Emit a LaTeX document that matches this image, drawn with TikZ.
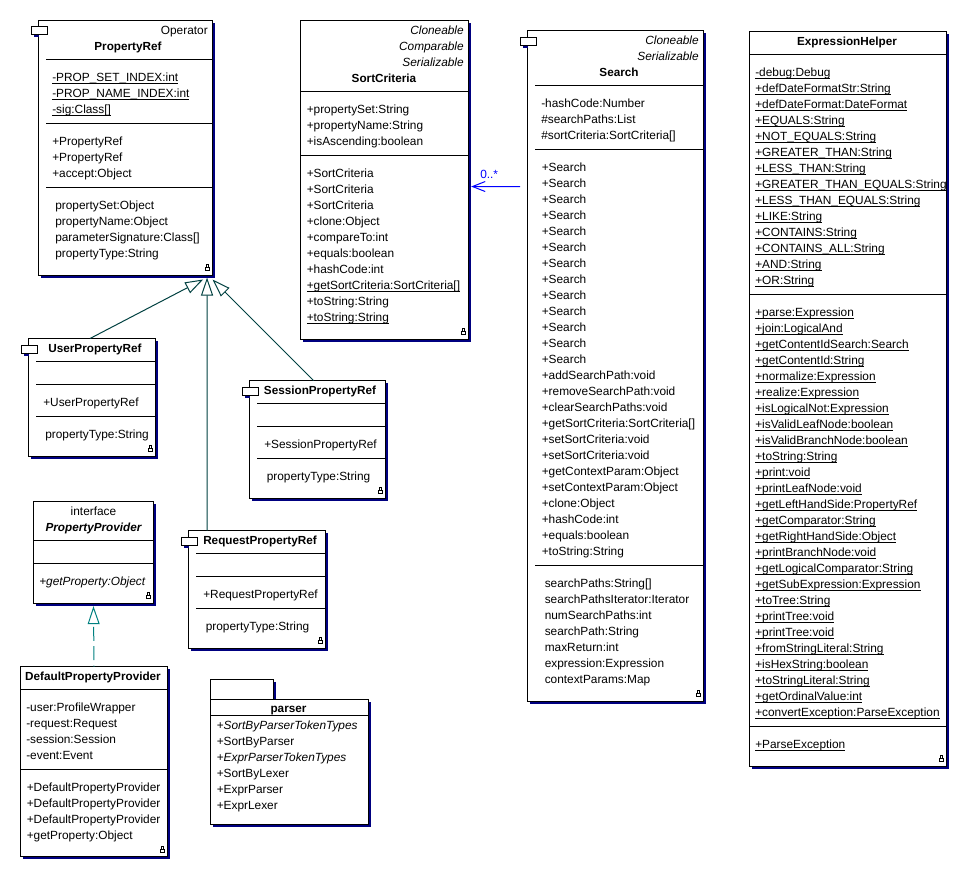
\documentclass[tikz,border=0pt]{standalone}
\usepackage{fontspec}
\usepackage{tikz}
\usetikzlibrary{arrows.meta,shadows}
\setmainfont{Liberation Sans}

\definecolor{shadowblue}{RGB}{0,0,128}
\definecolor{darkteal}{RGB}{0,64,64}
\definecolor{lightteal}{RGB}{0,128,128}
\definecolor{assocblue}{RGB}{0,0,255}

\newcommand{\ulined}[1]{\setbox0=\hbox{#1}\rlap{\rule[-1.9pt]{\wd0}{0.75pt}}\box0}
\newcommand{\compicon}[3]{%
  \fill [shadowblue] ({#2+3},{#3+9}) rectangle ({#2+8},{#3+11});
  \node (#1) [compbox] at (#2,#3) {};}

\tikzset{
  classbox/.style={draw, fill=white, line width=0.75pt, anchor=north west, inner sep=0pt, outer sep=0pt,
    general shadow={fill=shadowblue, shadow xshift=1.9pt, shadow yshift=-1.9pt}},
  boxsize/.style 2 args={minimum width=#1*0.75pt, minimum height=#2*0.75pt},
  compbox/.style={draw, fill=white, line width=0.75pt, anchor=north west, inner sep=0pt, outer sep=0pt,
    minimum width=12pt, minimum height=6pt},
  member/.style={anchor=base west, inner sep=0pt, font=\fontsize{8.9}{12}\selectfont},
  memberit/.style={member, font=\fontsize{8.9}{12}\selectfont\itshape},
  stereo/.style={anchor=base east, inner sep=0pt, font=\fontsize{8.9}{12}\selectfont},
  stereoit/.style={stereo, font=\fontsize{8.9}{12}\selectfont\itshape},
  heading/.style={anchor=base, inner sep=0pt, font=\fontsize{8.8}{12}\selectfont\bfseries},
  sepline/.style={line width=0.75pt},
  genarrow/.style={color=darkteal, line width=0.75pt, -{Triangle[open, length=13.5pt, width=9pt]}},
  realarrow/.style={color=lightteal, line width=0.75pt, dash pattern=on 10.5pt off 4pt, dash phase=9.75pt, -{Triangle[open, length=13.5pt, width=9pt, sep=0pt]}},
  assocarrow/.style={color=assocblue, line width=0.75pt, -{Straight Barb[length=9.5pt, width=7.5pt]}},
  lockmark/.pic={
    \draw [line width=0.75pt] (-2,-3.5) rectangle (2,-0.5);
    \draw [line width=0.75pt] (-1,-0.5) -- (-1,2.5) -- (1,2.5) -- (1,-0.5);
  }
}

\begin{document}
\begin{tikzpicture}[x=0.75pt,y=0.75pt,yscale=-1,xscale=1]
\useasboundingbox (0,0) rectangle (960,871);

% PropertyRef
\node (propRef) [classbox, boxsize={174}{255}] at (38.5,20.5) {};
\compicon{propRefIcon}{31}{26}
\draw [sepline] (46,59.5) -- (212.5,59.5) ;
\draw [sepline] (46,123.5) -- (212.5,123.5) ;
\draw [sepline] (46,187.5) -- (212.5,187.5) ;
\node (propRefOp) [stereo] at (208,34) {Operator};
\node (propRefName) [heading] at (128,50) {PropertyRef};
\node (propRefA1) [member] at (52,81) {\ulined{-PROP\_SET\_INDEX:int}};
\node (propRefA2) [member] at (52,97) {\ulined{-PROP\_NAME\_INDEX:int}};
\node (propRefA3) [member] at (52,113) {\ulined{-sig:Class[]}};
\node (propRefM1) [member] at (52,145) {+PropertyRef};
\node (propRefM2) [member] at (52,161) {+PropertyRef};
\node (propRefM3) [member] at (52,177) {+accept:Object};
\node (propRefP1) [member] at (55,209) {propertySet:Object};
\node (propRefP2) [member] at (55,225) {propertyName:Object};
\node (propRefP3) [member] at (55,241) {parameterSignature:Class[]};
\node (propRefP4) [member] at (55,257) {propertyType:String};
\pic at (207.5,266.5) {lockmark};

% UserPropertyRef
\node (userRef) [classbox, boxsize={127}{118}] at (28.5,338.5) {};
\compicon{userRefIcon}{21}{345}
\draw [sepline] (36,361.5) -- (155.5,361.5) ;
\draw [sepline] (36,384.5) -- (155.5,384.5) ;
\draw [sepline] (36,416.5) -- (155.5,416.5) ;
\node (userRefName) [heading] at (95,352) {UserPropertyRef};
\node (userRefM1) [member] at (43,406) {+UserPropertyRef};
\node (userRefP1) [member] at (45,438) {propertyType:String};
\pic at (150.5,447.5) {lockmark};

% SessionPropertyRef
\node (sessionRef) [classbox, boxsize={136}{118}] at (249.5,380.5) {};
\compicon{sessionRefIcon}{242}{387}
\draw [sepline] (257,403.5) -- (385.5,403.5) ;
\draw [sepline] (257,426.5) -- (385.5,426.5) ;
\draw [sepline] (257,458.5) -- (385.5,458.5) ;
\node (sessionRefName) [heading] at (320,394) {SessionPropertyRef};
\node (sessionRefM1) [member] at (264,448) {+SessionPropertyRef};
\node (sessionRefP1) [member] at (266.5,480) {propertyType:String};
\pic at (380.5,490) {lockmark};

% RequestPropertyRef
\node (requestRef) [classbox, boxsize={137}{118}] at (188.5,530.5) {};
\compicon{requestRefIcon}{181}{537}
\draw [sepline] (196,553.5) -- (325.5,553.5) ;
\draw [sepline] (196,576.5) -- (325.5,576.5) ;
\draw [sepline] (196,608.5) -- (325.5,608.5) ;
\node (requestRefName) [heading] at (260,544) {RequestPropertyRef};
\node (requestRefM1) [member] at (203,598) {+RequestPropertyRef};
\node (requestRefP1) [member] at (205.5,630) {propertyType:String};
\pic at (320.5,640) {lockmark};

% PropertyProvider
\node (provider) [classbox, boxsize={120}{102}] at (33.5,501.5) {};
\draw [sepline] (33.5,540.5) -- (153.5,540.5) ;
\draw [sepline] (33.5,563.5) -- (153.5,563.5) ;
\node (providerKind) [heading, font=\fontsize{8.9}{12}\selectfont] at (93.5,515) {interface};
\node (providerName) [heading, font=\fontsize{8.8}{12}\selectfont\bfseries\itshape] at (93.5,531) {PropertyProvider};
\node (providerM1) [memberit] at (39,585) {+getProperty:Object};
\pic at (148.5,595) {lockmark};

% DefaultPropertyProvider
\node (defProvider) [classbox, boxsize={147}{190}] at (20.5,666.5) {};
\draw [sepline] (20.5,689.5) -- (167.5,689.5) ;
\draw [sepline] (20.5,769.5) -- (167.5,769.5) ;
\node (defProviderName) [heading] at (93,680) {DefaultPropertyProvider};
\node (defProviderA1) [member] at (26,711) {-user:ProfileWrapper};
\node (defProviderA2) [member] at (26,727) {-request:Request};
\node (defProviderA3) [member] at (26,743) {-session:Session};
\node (defProviderA4) [member] at (26,759) {-event:Event};
\node (defProviderM1) [member] at (26.5,791) {+DefaultPropertyProvider};
\node (defProviderM2) [member] at (26.5,807) {+DefaultPropertyProvider};
\node (defProviderM3) [member] at (26.5,823) {+DefaultPropertyProvider};
\node (defProviderM4) [member] at (26.5,839) {+getProperty:Object};
\pic at (162.5,848.5) {lockmark};

% parser package
\node (parserTab) [classbox, boxsize={63}{21}] at (210.5,679.5) {};
\node (parserBody) [classbox, boxsize={158}{125}] at (210.5,699.5) {};
\draw [sepline] (210.5,715.5) -- (368.5,715.5) ;
\node (parserName) [heading] at (288.5,712) {parser};
\node (parserI1) [member] at (216.5,729) {+\textit{SortByParserTokenTypes}};
\node (parserI2) [member] at (216.5,745) {+SortByParser};
\node (parserI3) [member] at (216.5,761) {+\textit{ExprParserTokenTypes}};
\node (parserI4) [member] at (216.5,777) {+SortByLexer};
\node (parserI5) [member] at (216.5,793) {+ExprParser};
\node (parserI6) [member] at (216.5,809) {+ExprLexer};

% SortCriteria
\node (sortCrit) [classbox, boxsize={168}{319}] at (300.5,20.5) {};
\draw [sepline] (300.5,91.5) -- (468.5,91.5) ;
\draw [sepline] (300.5,155.5) -- (468.5,155.5) ;
\node (sortCritS1) [stereoit] at (464,34) {Cloneable};
\node (sortCritS2) [stereoit] at (464,50) {Comparable};
\node (sortCritS3) [stereoit] at (464,66) {Serializable};
\node (sortCritName) [heading] at (384,82) {SortCriteria};
\node (sortCritA1) [member] at (306.5,113) {+propertySet:String};
\node (sortCritA2) [member] at (306.5,129) {+propertyName:String};
\node (sortCritA3) [member] at (306.5,145) {+isAscending:boolean};
\node (sortCritM1) [member] at (306.5,177) {+SortCriteria};
\node (sortCritM2) [member] at (306.5,193) {+SortCriteria};
\node (sortCritM3) [member] at (306.5,209) {+SortCriteria};
\node (sortCritM4) [member] at (306.5,225) {+clone:Object};
\node (sortCritM5) [member] at (306.5,241) {+compareTo:int};
\node (sortCritM6) [member] at (306.5,257) {+equals:boolean};
\node (sortCritM7) [member] at (306.5,273) {+hashCode:int};
\node (sortCritM8) [member] at (306.5,289) {\ulined{+getSortCriteria:SortCriteria[]}};
\node (sortCritM9) [member] at (306.5,305) {+toString:String};
\node (sortCritM10) [member] at (306.5,321) {\ulined{+toString:String}};
\pic at (463.5,331) {lockmark};

% Search
\node (search) [classbox, boxsize={176}{671}] at (527.5,30.5) {};
\compicon{searchIcon}{520}{37}
\draw [sepline] (535,85.5) -- (703.5,85.5) ;
\draw [sepline] (535,149.5) -- (703.5,149.5) ;
\draw [sepline] (535,565.5) -- (703.5,565.5) ;
\node (searchS1) [stereoit] at (699,44) {Cloneable};
\node (searchS2) [stereoit] at (699,60) {Serializable};
\node (searchName) [heading] at (619,76) {Search};
\node (searchA1) [member] at (541,107) {-hashCode:Number};
\node (searchA2) [member] at (541,123) {\#searchPaths:List};
\node (searchA3) [member] at (541,139) {\#sortCriteria:SortCriteria[]};
\node (searchM1) [member] at (541.5,171) {+Search};
\node (searchM2) [member] at (541.5,187) {+Search};
\node (searchM3) [member] at (541.5,203) {+Search};
\node (searchM4) [member] at (541.5,219) {+Search};
\node (searchM5) [member] at (541.5,235) {+Search};
\node (searchM6) [member] at (541.5,251) {+Search};
\node (searchM7) [member] at (541.5,267) {+Search};
\node (searchM8) [member] at (541.5,283) {+Search};
\node (searchM9) [member] at (541.5,299) {+Search};
\node (searchM10) [member] at (541.5,315) {+Search};
\node (searchM11) [member] at (541.5,331) {+Search};
\node (searchM12) [member] at (541.5,347) {+Search};
\node (searchM13) [member] at (541.5,363) {+Search};
\node (searchM14) [member] at (541.5,379) {+addSearchPath:void};
\node (searchM15) [member] at (541.5,395) {+removeSearchPath:void};
\node (searchM16) [member] at (541.5,411) {+clearSearchPaths:void};
\node (searchM17) [member] at (541.5,427) {+getSortCriteria:SortCriteria[]};
\node (searchM18) [member] at (541.5,443) {+setSortCriteria:void};
\node (searchM19) [member] at (541.5,459) {+setSortCriteria:void};
\node (searchM20) [member] at (541.5,475) {+getContextParam:Object};
\node (searchM21) [member] at (541.5,491) {+setContextParam:Object};
\node (searchM22) [member] at (541.5,507) {+clone:Object};
\node (searchM23) [member] at (541.5,523) {+hashCode:int};
\node (searchM24) [member] at (541.5,539) {+equals:boolean};
\node (searchM25) [member] at (541.5,555) {+toString:String};
\node (searchP1) [member] at (544.5,587) {searchPaths:String[]};
\node (searchP2) [member] at (544.5,603) {searchPathsIterator:Iterator};
\node (searchP3) [member] at (544.5,619) {numSearchPaths:int};
\node (searchP4) [member] at (544.5,635) {searchPath:String};
\node (searchP5) [member] at (544.5,651) {maxReturn:int};
\node (searchP6) [member] at (544.5,667) {expression:Expression};
\node (searchP7) [member] at (544.5,683) {contextParams:Map};
\pic at (698.5,693) {lockmark};

% ExpressionHelper
\node (exprHelper) [classbox, boxsize={197}{735}] at (749.5,31.5) {};
\draw [sepline] (749.5,54.5) -- (946.5,54.5) ;
\draw [sepline] (749.5,294.5) -- (946.5,294.5) ;
\draw [sepline] (749.5,726.5) -- (946.5,726.5) ;
\node (exprHelperName) [heading] at (847,45) {ExpressionHelper};
\node (exprA1) [member] at (755,76) {\ulined{-debug:Debug}};
\node (exprA2) [member] at (755,92) {\ulined{+defDateFormatStr:String}};
\node (exprA3) [member] at (755,108) {\ulined{+defDateFormat:DateFormat}};
\node (exprA4) [member] at (755,124) {\ulined{+EQUALS:String}};
\node (exprA5) [member] at (755,140) {\ulined{+NOT\_EQUALS:String}};
\node (exprA6) [member] at (755,156) {\ulined{+GREATER\_THAN:String}};
\node (exprA7) [member] at (755,172) {\ulined{+LESS\_THAN:String}};
\node (exprA8) [member] at (755,188) {\ulined{+GREATER\_THAN\_EQUALS:String}};
\node (exprA9) [member] at (755,204) {\ulined{+LESS\_THAN\_EQUALS:String}};
\node (exprA10) [member] at (755,220) {\ulined{+LIKE:String}};
\node (exprA11) [member] at (755,236) {\ulined{+CONTAINS:String}};
\node (exprA12) [member] at (755,252) {\ulined{+CONTAINS\_ALL:String}};
\node (exprA13) [member] at (755,268) {\ulined{+AND:String}};
\node (exprA14) [member] at (755,284) {\ulined{+OR:String}};
\node (exprM1) [member] at (755,316) {\ulined{+parse:Expression}};
\node (exprM2) [member] at (755,332) {\ulined{+join:LogicalAnd}};
\node (exprM3) [member] at (755,348) {\ulined{+getContentIdSearch:Search}};
\node (exprM4) [member] at (755,364) {\ulined{+getContentId:String}};
\node (exprM5) [member] at (755,380) {\ulined{+normalize:Expression}};
\node (exprM6) [member] at (755,396) {\ulined{+realize:Expression}};
\node (exprM7) [member] at (755,412) {\ulined{+isLogicalNot:Expression}};
\node (exprM8) [member] at (755,428) {\ulined{+isValidLeafNode:boolean}};
\node (exprM9) [member] at (755,444) {\ulined{+isValidBranchNode:boolean}};
\node (exprM10) [member] at (755,460) {\ulined{+toString:String}};
\node (exprM11) [member] at (755,476) {\ulined{+print:void}};
\node (exprM12) [member] at (755,492) {\ulined{+printLeafNode:void}};
\node (exprM13) [member] at (755,508) {\ulined{+getLeftHandSide:PropertyRef}};
\node (exprM14) [member] at (755,524) {\ulined{+getComparator:String}};
\node (exprM15) [member] at (755,540) {\ulined{+getRightHandSide:Object}};
\node (exprM16) [member] at (755,556) {\ulined{+printBranchNode:void}};
\node (exprM17) [member] at (755,572) {\ulined{+getLogicalComparator:String}};
\node (exprM18) [member] at (755,588) {\ulined{+getSubExpression:Expression}};
\node (exprM19) [member] at (755,604) {\ulined{+toTree:String}};
\node (exprM20) [member] at (755,620) {\ulined{+printTree:void}};
\node (exprM21) [member] at (755,636) {\ulined{+printTree:void}};
\node (exprM22) [member] at (755,652) {\ulined{+fromStringLiteral:String}};
\node (exprM23) [member] at (755,668) {\ulined{+isHexString:boolean}};
\node (exprM24) [member] at (755,684) {\ulined{+toStringLiteral:String}};
\node (exprM25) [member] at (755,700) {\ulined{+getOrdinalValue:int}};
\node (exprM26) [member] at (755,716) {\ulined{+convertException:ParseException}};
\node (exprM27) [member] at (755,748) {\ulined{+ParseException}};
\pic at (941.5,757.5) {lockmark};

% Connectors
\draw [genarrow] ([xshift=-1.5pt]userRef.north) -- ([xshift=-7pt,yshift=3pt]propRef.south east) ;
\draw [genarrow] ([xshift=14pt]requestRef.north west) -- ([xshift=-4.1pt,yshift=1.5pt]propRef.south east) ;
\draw [genarrow] ([xshift=-3pt]sessionRef.north) -- ([xshift=0pt,yshift=3pt]propRef.south east) ;
\draw [realarrow] (defProvider.north) -- ([yshift=2pt]provider.south) ;
\coordinate (searchAssocEnd) at (520,186.5);
\draw [assocarrow] (searchAssocEnd) -- ([xshift=2pt,yshift=4.9pt]sortCrit.east) ;
\node (assocMult) [anchor=base west, inner sep=0pt, font=\fontsize{8.9}{12}\selectfont, color=assocblue] at (480,178) {0..*};

\end{tikzpicture}
\end{document}
